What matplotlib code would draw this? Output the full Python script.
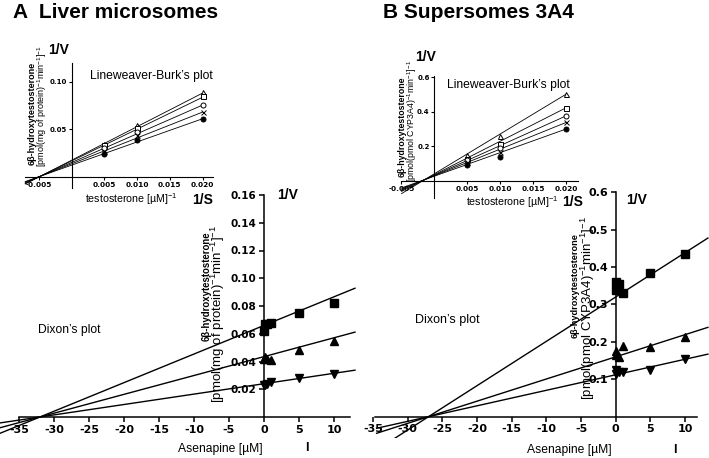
import numpy as np
import matplotlib
matplotlib.use("Agg")
import matplotlib.pyplot as plt

plt.rcParams['font.family'] = ['Liberation Sans', 'DejaVu Sans']
plt.rcParams['mathtext.fontset'] = 'custom'
plt.rcParams['mathtext.rm'] = 'Liberation Sans'
plt.rcParams['mathtext.it'] = 'Liberation Sans:italic'
plt.rcParams['mathtext.bf'] = 'Liberation Sans:bold'
plt.rcParams['mathtext.default'] = 'regular'

# ---------------- data ----------------
# Dixon plots (main panels)
dixon_x = [0, 0.1, 0.5, 1, 5, 10]
A_dixon_sq = [0.062, 0.067, 0.067, 0.068, 0.075, 0.082]
A_dixon_up = [0.042, 0.043, 0.042, 0.041, 0.048, 0.055]
A_dixon_dn = [0.023, 0.023, 0.024, 0.025, 0.028, 0.031]
A_dixon_ki = 32.0
A_dixon_intercepts = [0.066, 0.0435, 0.024]

B_dixon_sq = [0.338, 0.361, 0.355, 0.330, 0.383, 0.435]
B_dixon_up = [0.165, 0.175, 0.160, 0.189, 0.185, 0.212]
B_dixon_dn = [0.115, 0.125, 0.120, 0.120, 0.125, 0.155]
B_dixon_ki = 27.0
B_dixon_intercepts = [0.320, 0.160, 0.112]

# Lineweaver-Burk plots (insets)
lb_x = [0.005, 0.010, 0.020]
A_lb_tri = [0.0345, 0.0545, 0.0890]
A_lb_sq = [0.0330, 0.0515, 0.0845]
A_lb_circ = [0.0300, 0.0475, 0.0755]
A_lb_cross = [0.0275, 0.0435, 0.0680]
A_lb_dot = [0.0240, 0.0390, 0.0610]
A_lb_intercepts = [0.0174, 0.0166, 0.0150, 0.0136, 0.0122]
A_lb_slopes = [3.53, 3.35, 3.02, 2.72, 2.44]

B_lb_tri = [0.152, 0.263, 0.504]
B_lb_sq = [0.129, 0.213, 0.425]
B_lb_circ = [0.120, 0.192, 0.378]
B_lb_cross = [0.110, 0.167, 0.340]
B_lb_dot = [0.095, 0.140, 0.302]
B_lb_intercepts = [0.0426, 0.0371, 0.0338, 0.0312, 0.0285]
B_lb_slopes = [23.07, 19.40, 17.21, 15.44, 13.67]

dixon_xticks = [-35, -30, -25, -20, -15, -10, -5, 0, 5, 10]
A_yticks = [0.02, 0.04, 0.06, 0.08, 0.10, 0.12, 0.14, 0.16]
B_yticks = [0.1, 0.2, 0.3, 0.4, 0.5, 0.6]
lb_xticks = [-0.005, 0.005, 0.010, 0.015, 0.020]
A_lb_yticks = [0.05, 0.10]
B_lb_yticks = [0.2, 0.4, 0.6]

# ---------------- figure ----------------
W, H = 709, 458
fig = plt.figure(figsize=(W / 100, H / 100), dpi=100)


def add_axes_px(left, top, right, bottom):
    ax = fig.add_axes([left / W, 1 - bottom / H, (right - left) / W, (bottom - top) / H])
    ax.set_facecolor('none')
    return ax


def ftext(x, y, s, **kw):
    fig.text(x / W, 1 - y / H, s, **kw)


def style_axes(ax, xb, yb):
    for s in ['top', 'right']:
        ax.spines[s].set_visible(False)
    ax.spines['left'].set_position(('data', 0))
    ax.spines['bottom'].set_position(('data', 0))
    ax.spines['left'].set_bounds(*yb)
    ax.spines['bottom'].set_bounds(*xb)


TICKFONT = dict(fontfamily='DejaVu Sans', fontweight='bold')

# ---- main A ----
axA = add_axes_px(0, 195, 358.5, 444.75)
axA.set_xlim(-37.7, 13.5)
axA.set_ylim(-0.02, 0.16)
style_axes(axA, (-35, 12.3), (0, 0.16))
for sp in axA.spines.values():
    sp.set_linewidth(1.1)
xl = np.array([-40, 13.0])
for b in A_dixon_intercepts:
    axA.plot(xl, b * (1 + xl / A_dixon_ki), color='black', lw=1.0)
axA.plot(dixon_x, A_dixon_sq, 's', color='black', ms=5.5, clip_on=False)
axA.plot(dixon_x, A_dixon_up, '^', color='black', ms=5.5, clip_on=False)
axA.plot(dixon_x, A_dixon_dn, 'v', color='black', ms=5.5, clip_on=False)
axA.set_xticks(dixon_xticks, labels=[str(v) for v in dixon_xticks], fontsize=8, **TICKFONT)
axA.set_yticks(A_yticks, labels=[f"{v:.2f}" for v in A_yticks], fontsize=7.5, **TICKFONT)
axA.tick_params(direction='out', length=3.5, width=1.1, pad=2)

# ---- main B ----
axB = add_axes_px(366.2, 192.3, 709, 437.6)
axB.set_xlim(-36, 13.46)
axB.set_ylim(-0.056, 0.6)
style_axes(axB, (-34.8, 11.8), (0, 0.6))
for sp in axB.spines.values():
    sp.set_linewidth(1.1)
xl = np.array([-34.5, 13.3])
for b in B_dixon_intercepts:
    axB.plot(xl, b * (1 + xl / B_dixon_ki), color='black', lw=1.0)
axB.plot(dixon_x, B_dixon_sq, 's', color='black', ms=5.5, clip_on=False)
axB.plot(dixon_x, B_dixon_up, '^', color='black', ms=5.5, clip_on=False)
axB.plot(dixon_x, B_dixon_dn, 'v', color='black', ms=5.5, clip_on=False)
axB.set_xticks(dixon_xticks, labels=[str(v) for v in dixon_xticks], fontsize=8, **TICKFONT)
axB.set_yticks(B_yticks, labels=[f"{v:.1f}" for v in B_yticks], fontsize=8, **TICKFONT)
axB.tick_params(direction='out', length=3.5, width=1.1, pad=2)

# ---- insets ----
lb_markers = [dict(marker='^', mfc='white', mec='black'),
              dict(marker='s', mfc='white', mec='black'),
              dict(marker='o', mfc='white', mec='black'),
              dict(marker='x', color='black'),
              dict(marker='o', mfc='black', mec='black')]


def draw_inset(ax, series, intercepts, slopes, xrange_):
    xl = np.array(xrange_)
    for b, m in zip(intercepts, slopes):
        ax.plot(xl, b + m * xl, color='black', lw=0.6, clip_on=False)
    for ys, mk in zip(series, lb_markers):
        ax.plot(lb_x, ys, linestyle='none', ms=3.6, mew=0.7, clip_on=False, **mk)


axAi = add_axes_px(22.65, 62.7, 213, 188.1)
axAi.set_xlim(-0.0075, 0.0216)
axAi.set_ylim(-0.012, 0.12)
style_axes(axAi, (-0.0071, 0.0216), (-0.012, 0.12))
draw_inset(axAi, [A_lb_tri, A_lb_sq, A_lb_circ, A_lb_cross, A_lb_dot],
           A_lb_intercepts, A_lb_slopes, [-0.0071, 0.020])
axAi.set_xticks(lb_xticks, labels=[f"{v:.3f}" for v in lb_xticks], fontsize=5.3, **TICKFONT)
axAi.set_yticks(A_lb_yticks, labels=[f"{v:.2f}" for v in A_lb_yticks], fontsize=5, **TICKFONT)
axAi.tick_params(direction='out', length=2, width=0.8, pad=1.5)
for sp in axAi.spines.values():
    sp.set_linewidth(0.8)

axBi = add_axes_px(398.2, 76.3, 577.7, 198)
axBi.set_xlim(-0.0055, 0.0217)
axBi.set_ylim(-0.098, 0.606)
style_axes(axBi, (-0.0051, 0.0217), (-0.098, 0.606))
draw_inset(axBi, [B_lb_tri, B_lb_sq, B_lb_circ, B_lb_cross, B_lb_dot],
           B_lb_intercepts, B_lb_slopes, [-0.005, 0.020])
axBi.set_xticks(lb_xticks, labels=[f"{v:.3f}" for v in lb_xticks], fontsize=5.3, **TICKFONT)
axBi.set_yticks(B_lb_yticks, labels=[f"{v:.1f}" for v in B_lb_yticks], fontsize=5, **TICKFONT)
axBi.tick_params(direction='out', length=2, width=0.8, pad=1.5)
for sp in axBi.spines.values():
    sp.set_linewidth(0.8)

# ---------------- texts ----------------
ftext(13, 12.5, "A  Liver microsomes", fontsize=15, fontweight='bold', ha='left', va='center')
ftext(383, 12.5, "B Supersomes 3A4", fontsize=15, fontweight='bold', ha='left', va='center')

# inset A
ftext(59, 50, "1/V", fontsize=10, fontweight='bold', ha='center', va='center')
ftext(31.7, 113.5, "6β-hydroxytestosterone", fontsize=6.5, fontweight='bold', rotation=90, ha='center', va='center')
ftext(41.7, 106.5, r"[pmol(mg of protein)$^{-1}$min$^{-1}$]$^{-1}$", fontsize=6.5, rotation=90, ha='center', va='center')
ftext(151, 76, "Lineweaver-Burk’s plot", fontsize=8.7, ha='center', va='center')
ftext(131, 199, r"testosterone [µM]$^{-1}$", fontsize=7.7, ha='center', va='center')
ftext(202.5, 200, "1/S", fontsize=10, fontweight='bold', ha='center', va='center')

# inset B
ftext(426, 57, "1/V", fontsize=10, fontweight='bold', ha='center', va='center')
ftext(402.5, 126.7, "6β-hydroxytestosterone", fontsize=6.3, fontweight='bold', rotation=90, ha='center', va='center')
ftext(412.5, 121, r"[pmol(pmol CYP3A4)$^{-1}$min$^{-1}$]$^{-1}$", fontsize=6.3, rotation=90, ha='center', va='center')
ftext(508, 85, "Lineweaver-Burk’s plot", fontsize=8.7, ha='center', va='center')
ftext(512, 202, r"testosterone [µM]$^{-1}$", fontsize=7.7, ha='center', va='center')
ftext(573, 202.5, "1/S", fontsize=10, fontweight='bold', ha='center', va='center')

# main A
ftext(288, 195, "1/V", fontsize=10, fontweight='bold', ha='center', va='center')
ftext(207, 286.5, "6β-hydroxytestosterone", fontsize=6.9, fontweight='bold', rotation=90, ha='center', va='center')
ftext(218, 314, r"[pmol(mg of protein)$^{-1}$min$^{-1}$]$^{-1}$", fontsize=9.5, rotation=90, ha='center', va='center')
ftext(69, 330, "Dixon’s plot", fontsize=8.7, ha='center', va='center')
ftext(220, 449, "Asenapine [µM]", fontsize=8.7, ha='center', va='center')
ftext(307, 448, "I", fontsize=9, fontweight='bold', ha='center', va='center')

# main B
ftext(637, 200, "1/V", fontsize=10, fontweight='bold', ha='center', va='center')
ftext(575, 286, "6β-hydroxytestosterone", fontsize=6.6, fontweight='bold', rotation=90, ha='center', va='center')
ftext(588, 308.5, r"[pmol(pmol CYP3A4)$^{-1}$min$^{-1}$]$^{-1}$", fontsize=9.5, rotation=90, ha='center', va='center')
ftext(447, 320, "Dixon’s plot", fontsize=9, ha='center', va='center')
ftext(569, 450, "Asenapine [µM]", fontsize=8.7, ha='center', va='center')
ftext(675, 450, "I", fontsize=9, fontweight='bold', ha='center', va='center')

fig.savefig("out.png", dpi=100)
